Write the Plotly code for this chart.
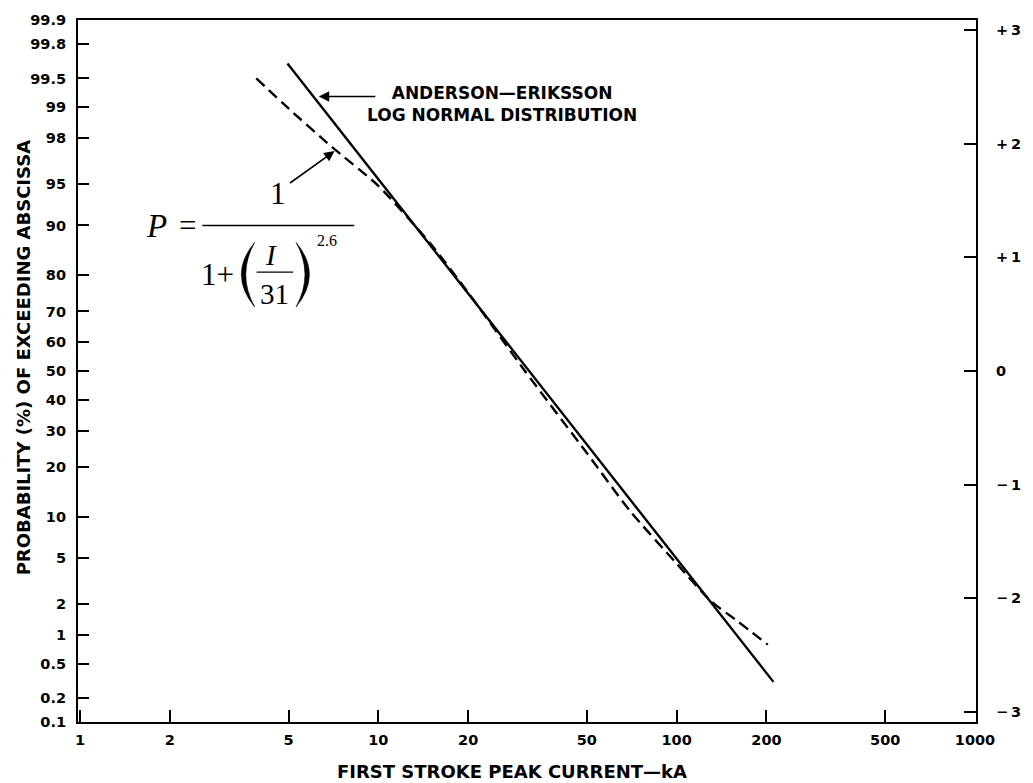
from statistics import NormalDist
import math
import plotly.graph_objects as go

# ---- axis tick definitions ----
current_ticks = [1, 2, 5, 10, 20, 50, 100, 200, 500, 1000]
current_labels = ["1", "2", "5", "10", "20", "50", "100", "200", "500", "1000"]

prob_ticks = [99.9, 99.8, 99.5, 99, 98, 95, 90, 80, 70, 60, 50, 40, 30, 20, 10, 5, 2, 1, 0.5, 0.2, 0.1]
prob_labels = ["99.9", "99.8", "99.5", "99", "98", "95", "90", "80", "70", "60", "50",
               "40", "30", "20", "10", "5", "2", "1", "0.5", "0.2", "0.1"]

sigma_ticks = [3, 2, 1, 0, -1, -2, -3]
sigma_labels = ["+\u20093", "+\u20092", "+\u20091", "0", "\u2212\u20091", "\u2212\u20092", "\u2212\u20093"]

# ---- series: first stroke peak current (kA) vs probability of exceeding (%) ----
# Anderson-Eriksson log-normal distribution (straight line on probability paper)
ae_current = [4.96, 33.8, 211]
ae_prob = [99.66, 46.7, 0.31]

# Empirical expression P = 1 / (1 + (I/31)^2.6)
emp_current = [3.9, 5, 7, 10, 15, 20, 31, 50, 70, 100, 130, 160, 202]
emp_prob = [99.5, 98.96, 97.56, 94.85, 86.8, 75.5, 50, 23.5, 10.8, 4.5, 2.15, 1.38, 0.8]

nd = NormalDist()


def to_z(p_percent):
    """Probability (%) -> standard normal deviate (probability-paper ordinate)."""
    return nd.inv_cdf(p_percent / 100.0)


z_lo, z_hi = to_z(0.1), to_z(99.9)

# plot-area geometry (pixels) for annotation placement
L, R, T, B = 78, 45, 15, 61
W, H = 1033, 783
PW, PH = W - L - R, H - T - B


def px(x):
    return (x - L) / PW


def py(y):
    return (H - B - y) / PH


TICK_FONT = dict(family="DejaVu Sans", size=14.5, color="black", weight="bold")
LABEL_FONT = dict(family="DejaVu Sans", size=18, color="black", weight="bold")
SERIF = "Liberation Serif"

fig = go.Figure()

fig.add_trace(go.Scatter(
    x=emp_current, y=[to_z(p) for p in emp_prob],
    mode="lines", line=dict(color="black", width=2.4, dash="11px,6px", shape="spline", smoothing=0.6),
    hoverinfo="skip", showlegend=False,
))
fig.add_trace(go.Scatter(
    x=ae_current, y=[to_z(p) for p in ae_prob],
    mode="lines", line=dict(color="black", width=2.4),
    yaxis="y2", hoverinfo="skip", showlegend=False,
))

fig.update_layout(
    width=W, height=H,
    margin=dict(l=L, r=R, t=T, b=B, pad=0),
    paper_bgcolor="white", plot_bgcolor="white",
    showlegend=False,
    xaxis=dict(
        type="log", range=[-0.0066, 3.0033],
        tickvals=current_ticks, ticktext=current_labels,
        ticks="inside", ticklen=12, tickwidth=1.5, tickcolor="black",
        showline=True, linecolor="black", linewidth=2.2, mirror=True,
        showgrid=False, zeroline=False, tickfont=TICK_FONT,
        ticklabelstandoff=3,
    ),
    yaxis=dict(
        range=[z_lo, z_hi],
        tickvals=[to_z(p) for p in prob_ticks], ticktext=prob_labels,
        ticks="inside", ticklen=11, tickwidth=1.5, tickcolor="black",
        showline=True, linecolor="black", linewidth=2.2,
        showgrid=False, zeroline=False, tickfont=TICK_FONT,
        ticklabelstandoff=7,
    ),
    yaxis2=dict(
        range=[z_lo, z_hi], overlaying="y", side="right",
        tickvals=sigma_ticks, ticktext=sigma_labels,
        ticks="inside", ticklen=12, tickwidth=1.5, tickcolor="black",
        showline=True, linecolor="black", linewidth=2.2,
        showgrid=False, zeroline=False, tickfont=TICK_FONT,
        ticklabelstandoff=15,
    ),
)

ann = []
# axis titles
ann.append(dict(text="FIRST STROKE PEAK CURRENT\u2014kA", x=px(518), y=py(772),
                xref="paper", yref="paper", showarrow=False, font=LABEL_FONT,
                xanchor="center", yanchor="middle"))
ann.append(dict(text="PROBABILITY (%) OF EXCEEDING ABSCISSA", x=px(23), y=py(355),
                xref="paper", yref="paper", showarrow=False, font=LABEL_FONT, textangle=-90,
                xanchor="center", yanchor="middle"))
# line label and arrows
ann.append(dict(text="ANDERSON\u2014ERIKSSON<br>LOG NORMAL DISTRIBUTION", x=px(508), y=py(100),
                xref="paper", yref="paper", showarrow=False,
                font=dict(family="DejaVu Sans", size=17, color="black", weight="bold"),
                align="center", xanchor="center", yanchor="middle"))
ann.append(dict(text="", x=px(322), y=py(92), xref="paper", yref="paper",
                showarrow=True, ax=58, ay=0, arrowhead=2, arrowsize=1.3, arrowwidth=1.6,
                arrowcolor="black"))
ann.append(dict(text="", x=px(338), y=py(147), xref="paper", yref="paper",
                showarrow=True, ax=-46, ay=33, arrowhead=2, arrowsize=1.3, arrowwidth=1.6,
                arrowcolor="black"))

# formula P = 1 / (1 + (I/31)^2.6)
def ftxt(t, x, y, size=31, italic=False):
    return dict(text=t, x=px(x), y=py(y), xref="paper", yref="paper", showarrow=False,
                font=dict(family=SERIF, size=size, color="black",
                          style="italic" if italic else "normal"),
                xanchor="center", yanchor="middle")

ann.append(ftxt("P", 158, 222, size=33, italic=True))
ann.append(ftxt("=", 189, 222))
ann.append(ftxt("1", 281, 190))
ann.append(ftxt("1+", 219, 271))
ann.append(ftxt("I", 274, 252, size=29, italic=True))
ann.append(ftxt("31", 277, 291, size=29))
ann.append(ftxt("2.6", 330, 237, size=16))
fig.update_layout(annotations=ann)

shapes = [
    # main fraction bar
    dict(type="line", xref="paper", yref="paper", x0=px(204), x1=px(358), y0=py(222), y1=py(222),
         line=dict(color="black", width=1.4)),
    # inner fraction bar
    dict(type="line", xref="paper", yref="paper", x0=px(259), x1=px(296), y0=py(269), y1=py(269),
         line=dict(color="black", width=1.3)),
    # left parenthesis
    dict(type="path", xref="paper", yref="paper",
         path=(f"M {px(257)},{py(239)} Q {px(230)},{py(271)} {px(257)},{py(304)} "
               f"Q {px(239)},{py(271)} {px(257)},{py(239)} Z"),
         fillcolor="black", line=dict(color="black", width=0.6)),
    # right parenthesis
    dict(type="path", xref="paper", yref="paper",
         path=(f"M {px(299)},{py(239)} Q {px(326)},{py(271)} {px(299)},{py(304)} "
               f"Q {px(317)},{py(271)} {px(299)},{py(239)} Z"),
         fillcolor="black", line=dict(color="black", width=0.6)),
]
fig.update_layout(shapes=shapes)

fig.write_html("out.html")
